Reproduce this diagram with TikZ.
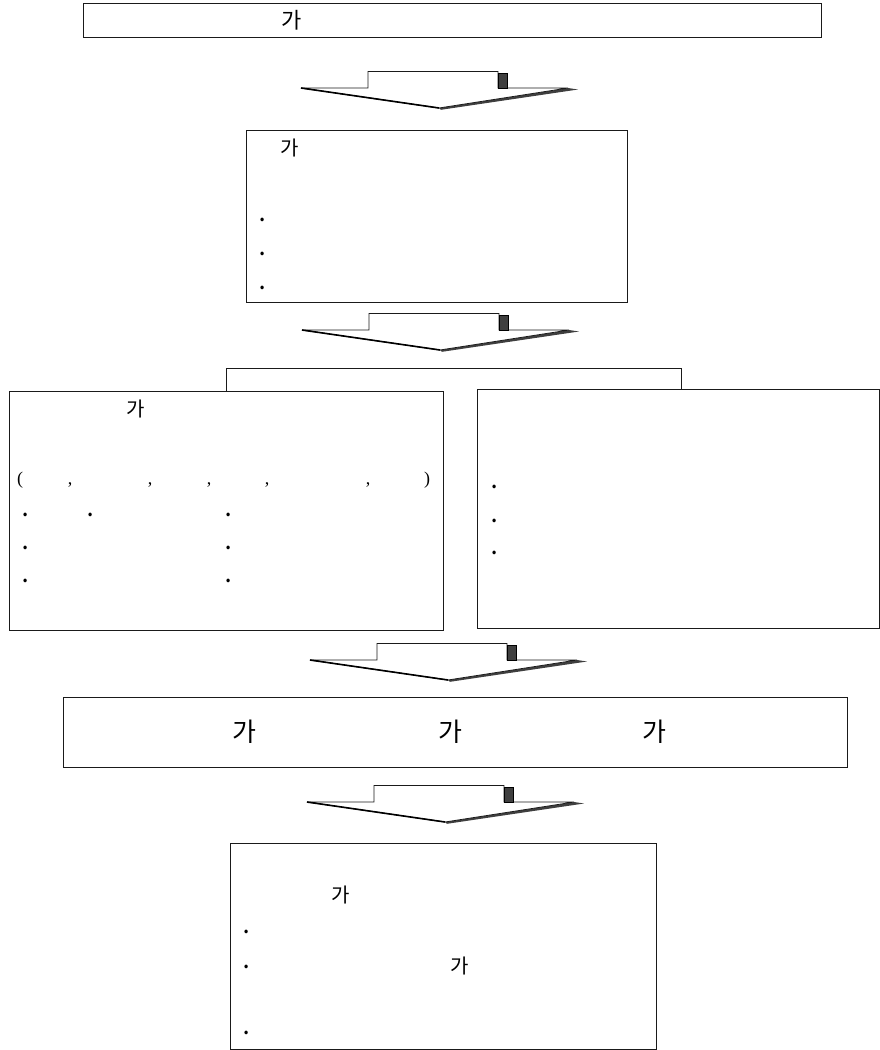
\documentclass[tikz,border=0pt]{standalone}
\usepackage{fontspec}
\setmainfont{Liberation Serif}
\newfontfamily\kr{Noto Sans CJK KR}
\newfontfamily\krbold{Noto Sans CJK KR Bold}
\definecolor{shadegray}{HTML}{3F3F3F}
\definecolor{linegray}{HTML}{1A1A1A}

\tikzset{
  panel/.style={draw=linegray, line width=0.9pt, fill=white, inner sep=0pt},
  krlabel/.style={font=\kr\fontsize{20}{20}\selectfont, inner sep=0pt, anchor=base},
  krbig/.style={font=\kr\fontsize{22}{22}\selectfont, inner sep=0pt, anchor=base},
  krhuge/.style={font=\kr\fontsize{26}{26}\selectfont, inner sep=0pt, anchor=base},
  dotmark/.style={font=\krbold\fontsize{19}{19}\selectfont, inner sep=0pt, anchor=base},
  punct/.style={font=\fontsize{18}{18}\selectfont, inner sep=0pt, anchor=base},
  % downward block arrow with a dark depth face on its right side
  blockarrow/.pic={
    \fill[shadegray] (138,20) -- (267,0) -- (277,1.5) -- (140,21.8) -- cycle;
    \draw[linegray, line width=0.8pt, fill=white]
      (67,0) -- (67,-16.5) -- (197,-16.5) -- (197,0) -- (267,0) -- (138,20) -- (0,0) -- cycle;
    \draw[black, line width=1.6pt] (0,0) -- (138,20);
    \filldraw[fill=shadegray, draw=black, line width=0.5pt] (197,-15) rectangle (206,0);
  }
}

\begin{document}
\begin{tikzpicture}[x=1pt, y=-1pt]
\useasboundingbox (0,0) rectangle (880,1050);

% boxes
\node[panel, minimum width=738pt, minimum height=34pt] (head) at (452,20.5) {};
\node[panel, minimum width=381pt, minimum height=172pt] (scope) at (436.5,216.5) {};
\node[panel, minimum width=434pt, minimum height=239.5pt] (left) at (226,510.75) {};
\node[panel, minimum width=402.5pt, minimum height=239pt] (right) at (678.25,509) {};
\node[panel, minimum width=784pt, minimum height=70pt] (merge) at (455,732) {};
\node[panel, minimum width=426pt, minimum height=206pt] (result) at (443,946) {};

% arrows between stages
\pic (arrA) at (301,88) {blockarrow};
\pic (arrB) at (302,330) {blockarrow};
\pic (arrC) at (310,660) {blockarrow};
\pic (arrD) at (307,802) {blockarrow};

% bracket joining the two branch boxes
\coordinate (brL) at (226,368.5);
\coordinate (brR) at (681.5,368.5);
\draw[linegray, line width=0.9pt] (brL |- left.north) -- (brL) -- (brR) -- (brR |- right.north);

% texts: header
\node[krbig] (t1) at (292,28.5) {가};

% texts: scope box
\node[krlabel] (t2) at (290,155.5) {가};
\node[dotmark] (d21) at (263,221) {.};
\node[dotmark] (d22) at (263,255) {.};
\node[dotmark] (d23) at (263,289) {.};

% texts: left branch
\node[krlabel] (t3) at (136,416.5) {가};
\node[punct] (p0) at (20,484) {(};
\node[punct] (p1) at (70,484) {,};
\node[punct] (p2) at (150,484) {,};
\node[punct] (p3) at (209,484) {,};
\node[punct] (p4) at (267,484) {,};
\node[punct] (p5) at (368,484) {,};
\node[punct] (p6) at (427,484) {)};
\node[dotmark] (d31) at (26,516) {.};
\node[dotmark] (d32) at (91,516) {.};
\node[dotmark] (d33) at (229,516) {.};
\node[dotmark] (d34) at (26,549) {.};
\node[dotmark] (d35) at (229,549) {.};
\node[dotmark] (d36) at (26,582) {.};
\node[dotmark] (d37) at (229,582) {.};

% texts: right branch
\node[dotmark] (d41) at (495,488.5) {.};
\node[dotmark] (d42) at (495,522) {.};
\node[dotmark] (d43) at (495,554.5) {.};

% texts: merged stage
\node[krhuge] (t51) at (244,741) {가};
\node[krhuge] (t52) at (450,741) {가};
\node[krhuge] (t53) at (654,741) {가};

% texts: result box
\node[krlabel] (t61) at (341,902.5) {가};
\node[dotmark] (d61) at (247,933.5) {.};
\node[dotmark] (d62) at (247,968.5) {.};
\node[krlabel] (t62) at (460,973.5) {가};
\node[dotmark] (d63) at (247,1034) {.};
\end{tikzpicture}
\end{document}
